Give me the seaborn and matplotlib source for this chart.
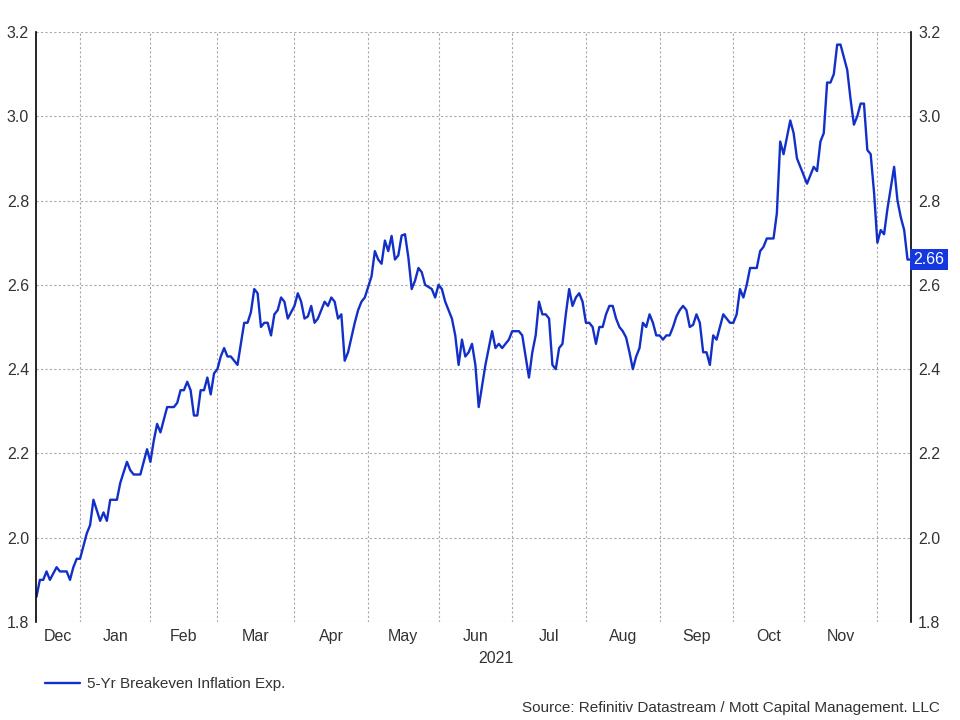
import pandas as pd
import numpy as np
import matplotlib.pyplot as plt
import matplotlib.transforms as mtransforms
import seaborn as sns

# 5-yr breakeven (%), one value per weekday
dec20 = [1.86, 1.90, 1.90, 1.92, 1.90, 1.915, 1.93, 1.92, 1.92, 1.92, 1.90, 1.93, 1.95]
jan21 = [1.95, 1.98, 2.01, 2.03, 2.09, 2.065, 2.04, 2.06, 2.04, 2.09, 2.09,
         2.09, 2.13, 2.155, 2.18, 2.16, 2.15, 2.15, 2.15, 2.18, 2.21]
feb21 = [2.18, 2.23, 2.27, 2.25, 2.28, 2.31, 2.31, 2.31, 2.32, 2.35,
         2.35, 2.37, 2.35, 2.29, 2.29, 2.35, 2.35, 2.38, 2.34, 2.39]
mar21 = [2.40, 2.43, 2.45, 2.43, 2.43, 2.42, 2.41, 2.46, 2.51, 2.51, 2.535, 2.59,
         2.58, 2.50, 2.51, 2.51, 2.48, 2.53, 2.54, 2.57, 2.56, 2.52, 2.535]
apr21 = [2.55, 2.58, 2.56, 2.52, 2.525, 2.55, 2.51, 2.52, 2.54, 2.56, 2.55,
         2.57, 2.56, 2.52, 2.53, 2.42, 2.44, 2.475, 2.51, 2.54, 2.56, 2.57]
may21 = [2.595, 2.62, 2.68, 2.66, 2.65, 2.705, 2.68, 2.716, 2.66, 2.67, 2.717,
         2.72, 2.665, 2.59, 2.61, 2.64, 2.63, 2.60, 2.595, 2.59, 2.57]
jun21 = [2.60, 2.59, 2.56, 2.54, 2.52, 2.48, 2.41, 2.47, 2.43, 2.44, 2.46,
         2.41, 2.31, 2.36, 2.41, 2.45, 2.49, 2.45, 2.46, 2.45, 2.46, 2.47]
jul21 = [2.49, 2.49, 2.49, 2.48, 2.43, 2.38, 2.44, 2.48, 2.56, 2.53, 2.53,
         2.52, 2.41, 2.40, 2.45, 2.46, 2.53, 2.59, 2.55, 2.57, 2.58, 2.56]
aug21 = [2.51, 2.51, 2.50, 2.46, 2.50, 2.50, 2.53, 2.55, 2.55, 2.52, 2.50,
         2.49, 2.475, 2.44, 2.40, 2.43, 2.45, 2.51, 2.50, 2.53, 2.51, 2.48]
sep21 = [2.48, 2.47, 2.48, 2.48, 2.50, 2.525, 2.54, 2.55, 2.54, 2.50, 2.505,
         2.53, 2.51, 2.44, 2.44, 2.41, 2.48, 2.47, 2.50, 2.53, 2.52, 2.51]
oct21 = [2.51, 2.53, 2.59, 2.57, 2.60, 2.64, 2.64, 2.64, 2.68, 2.69, 2.71,
         2.71, 2.71, 2.77, 2.94, 2.91, 2.95, 2.99, 2.96, 2.90, 2.88]
nov21 = [2.86, 2.84, 2.86, 2.88, 2.87, 2.94, 2.96, 3.08, 3.08, 3.10, 3.17,
         3.17, 3.14, 3.11, 3.04, 2.98, 3.00, 3.03, 3.03, 2.92, 2.91, 2.82]
dec21 = [2.70, 2.73, 2.72, 2.78, 2.83, 2.88, 2.80, 2.76, 2.73, 2.66, 2.66]

series_name = "5-Yr Breakeven Inflation Exp."
source_text = "Source: Refinitiv Datastream / Mott Capital Management. LLC"
year_label = "2021"
month_names = ["Dec", "Jan", "Feb", "Mar", "Apr", "May", "Jun",
               "Jul", "Aug", "Sep", "Oct", "Nov"]
y_ticks = [1.8, 2.0, 2.2, 2.4, 2.6, 2.8, 3.0, 3.2]

line_color = "#1230c8"
grid_color = "#a9a7af"
text_color = "#333333"

values = (dec20 + jan21 + feb21 + mar21 + apr21 + may21 + jun21 + jul21
          + aug21 + sep21 + oct21 + nov21 + dec21)
dates = pd.bdate_range("2020-12-15", "2021-12-15")
df = pd.DataFrame({"date": dates, "value": values})
df["pos"] = np.arange(len(df))
df["series"] = series_name

sns.set_theme(style="white")
plt.rcParams["font.family"] = ["Liberation Sans", "DejaVu Sans"]

fig = plt.figure(figsize=(9.6, 7.2), dpi=100)
ax = fig.add_axes([0.0375, 0.1361, 0.9115, 0.8195])

sns.lineplot(data=df, x="pos", y="value", hue="series", palette=[line_color],
             linewidth=1.7, ax=ax, legend=False)

xmin, xmax = -0.15, len(df) - 1 + 0.05
ax.set_xlim(xmin, xmax)
ax.set_ylim(1.8, 3.2)

# month boundaries = first weekday of each month
starts = df.groupby(df["date"].dt.to_period("M"))["pos"].min().tolist()
for s in starts[1:]:
    ax.axvline(s, color=grid_color, lw=0.8, ls=(0, (2, 2)), zorder=0)

bounds = [xmin] + starts[1:]
label_pos = [(a + b) / 2 for a, b in zip(bounds[:-1], bounds[1:])]
ax.set_xticks(label_pos, month_names)

ax.set_yticks(y_ticks, [f"{t:.1f}" for t in y_ticks])
ax.yaxis.grid(True, color=grid_color, lw=0.8, ls=(0, (2, 2)))
ax.xaxis.grid(False)
ax.tick_params(axis="both", length=0, labelsize=11.5, colors=text_color)
ax.tick_params(axis="y", labelleft=True, labelright=True, pad=5)
ax.tick_params(axis="x", pad=5)
ax.set_xlabel("")
ax.set_ylabel("")

for side in ["top", "bottom"]:
    ax.spines[side].set_visible(False)
for side in ["left", "right"]:
    ax.spines[side].set_color("black")
    ax.spines[side].set_linewidth(1.2)

# last value box on the right axis
last = df["value"].iloc[-1]
trans = mtransforms.blended_transform_factory(ax.transAxes, ax.transData)
ax.text(1.003, last, f"{last:.2f}", transform=trans, ha="left", va="center",
        fontsize=11.5, color="white",
        bbox=dict(boxstyle="square,pad=0.2", fc="#1437e0", ec="none"))

fig.text(0.517, 0.085, year_label, ha="center", va="center",
         fontsize=11.5, color=text_color)

handle = plt.Line2D([], [], color=line_color, lw=1.7)
fig.legend([handle], [series_name], loc="center left",
           bbox_to_anchor=(0.047, 0.05), frameon=False, fontsize=11,
           handlelength=2.3, handletextpad=0.45, borderpad=0, borderaxespad=0,
           labelcolor=text_color)

fig.text(0.979, 0.0167, source_text, ha="right", va="center",
         fontsize=11, color=text_color)

fig.savefig("out.png", dpi=100, facecolor="white")
